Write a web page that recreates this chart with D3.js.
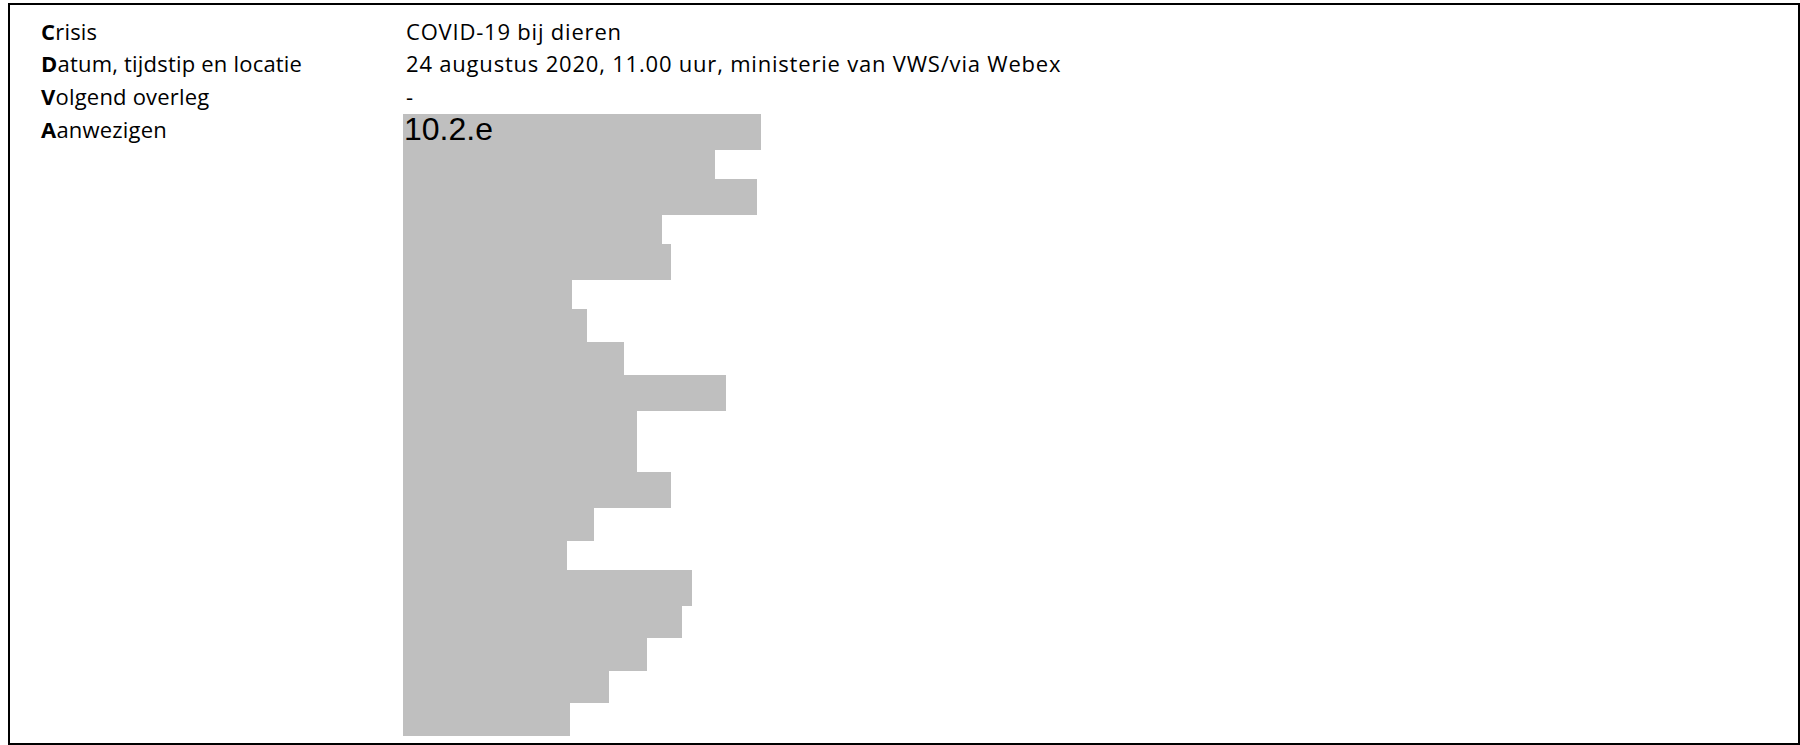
<!DOCTYPE html>
<html>
<head>
<meta charset="utf-8">
<script src="https://cdn.jsdelivr.net/npm/d3@7"></script>
<style>
  html, body { margin: 0; padding: 0; background: #fff; }
  svg { display: block; }
</style>
</head>
<body>
<div id="chart"></div>
<script>
// ---- data ----
const labelsBold = ["C", "D", "V", "A"];
const labelsRest = ["risis", "atum, tijdstip en locatie", "olgend overleg", "anwezigen"];
const values = ["COVID-19 bij dieren", "24 augustus 2020, 11.00 uur, ministerie van VWS/via Webex", "-", ""];
const redactionCode = "10.2.e";
// redaction block widths (one per row)
const blockWidths = [358, 312, 354, 259, 268, 169, 184, 221, 323, 234, 268, 191, 164, 289, 279, 244, 206, 167];
// redaction row heights (thickness of each block)
const blockHeights = [36, 29, 36, 29, 36, 29, 33, 33, 36, 61, 36, 33, 29, 36, 32, 33, 32, 33];

// ---- layout ----
const W = 1800, H = 745;
const svg = d3.select("#chart").append("svg").attr("width", W).attr("height", H);

svg.append("rect")
  .attr("x", 9).attr("y", 4).attr("width", 1790).attr("height", 740)
  .attr("fill", "none").attr("stroke", "#000").attr("stroke-width", 2);

const rowY = d3.scalePoint().domain(d3.range(labelsBold.length)).range([39.5, 137.5]);
const font = "'Open Sans', sans-serif";

const labels = svg.append("g").selectAll("text").data(labelsBold).join("text")
  .attr("x", 41).attr("y", (d, i) => rowY(i))
  .attr("font-family", font).attr("font-size", 22).attr("letter-spacing", 0.2).attr("fill", "#000");
labels.append("tspan").attr("font-weight", "bold").text(d => d);
labels.append("tspan").text((d, i) => labelsRest[i]);

// redaction blocks
const cum = [0];
blockHeights.forEach(h => cum.push(cum[cum.length - 1] + h));
const y = d3.scaleLinear().domain([0, d3.sum(blockHeights)]).range([114, 736]);
const x = d3.scaleLinear().domain([0, 400]).range([403, 803]);

svg.append("g").selectAll("rect").data(blockWidths).join("rect")
  .attr("x", x(0))
  .attr("y", (d, i) => y(cum[i]))
  .attr("width", d => x(d) - x(0))
  .attr("height", (d, i) => y(cum[i + 1]) - y(cum[i]))
  .attr("fill", "#bfbfbf")
  .attr("shape-rendering", "crispEdges");

svg.append("g").selectAll("text").data(values).join("text")
  .attr("x", 406).attr("y", (d, i) => rowY(i))
  .attr("font-family", font).attr("font-size", 22).attr("letter-spacing", 0.8).attr("fill", "#000")
  .text(d => d);

svg.append("text")
  .attr("x", 404).attr("y", 140)
  .attr("font-family", "'Liberation Sans', Arial, sans-serif")
  .attr("font-size", 32).attr("fill", "#000")
  .text(redactionCode);
</script>
</body>
</html>
